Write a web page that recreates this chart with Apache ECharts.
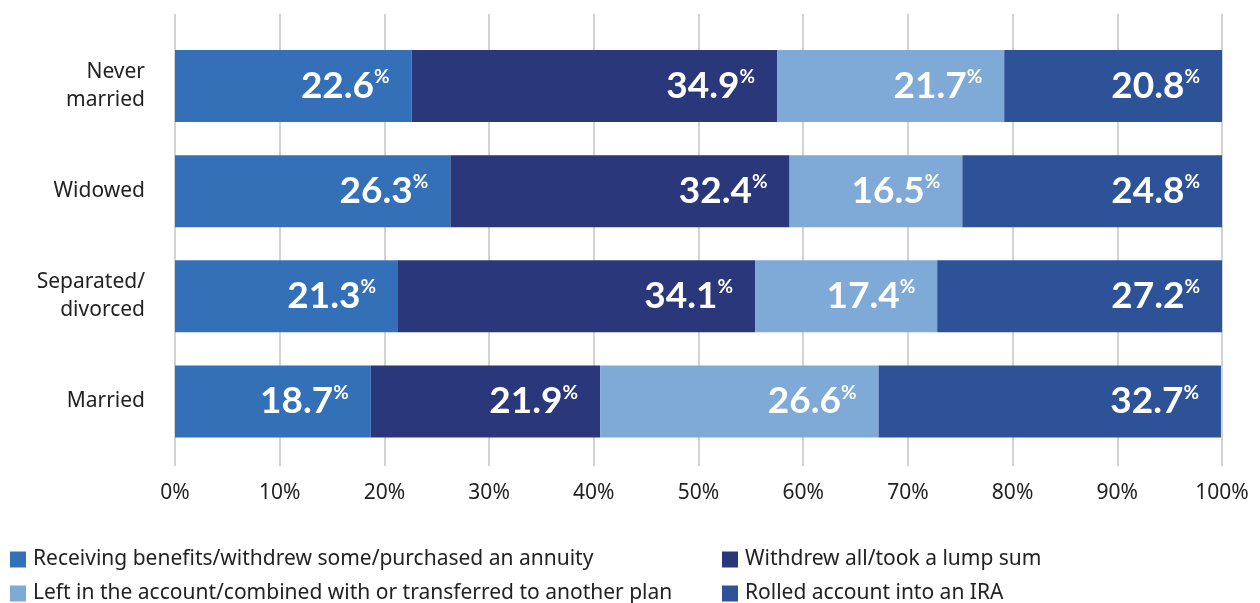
<!DOCTYPE html>
<html>
<head>
<meta charset="utf-8">
<script src="https://cdn.jsdelivr.net/npm/echarts@6/dist/echarts.min.js"></script>
<style>
  html, body { margin: 0; padding: 0; background: #fff; }
  #chart { width: 1260px; height: 603px; }
</style>
</head>
<body>
<div id="chart"></div>
<script>
var categories = ['Never\nmarried', 'Widowed', 'Separated/\ndivorced', 'Married'];
var seriesNames = [
    'Receiving benefits/withdrew some/purchased an annuity',
    'Withdrew all/took a lump sum',
    'Left in the account/combined with or transferred to another plan',
    'Rolled account into an IRA'
];
var receiving = [22.6, 26.3, 21.3, 18.7];
var withdrewAll = [34.9, 32.4, 34.1, 21.9];
var leftInAccount = [21.7, 16.5, 17.4, 26.6];
var rolledIRA = [20.8, 24.8, 27.2, 32.7];
var colors = ['#3470b8', '#2a377a', '#7fa9d7', '#2d5298'];

var labelFont = 'Lato, "Noto Sans", sans-serif';
var textFont = '"Noto Sans", "Open Sans", sans-serif';

function barSeries(idx, values) {
    return {
        name: seriesNames[idx],
        type: 'bar',
        stack: 'total',
        xAxisIndex: 0,
        yAxisIndex: 0,
        barWidth: 72,
        itemStyle: { color: colors[idx] },
        data: values,
        label: {
            show: true,
            position: 'insideRight',
            distance: 22,
            formatter: function (p) { return '{n|' + p.value.toFixed(1) + '}{p|%}'; },
            rich: {
                n: { fontFamily: labelFont, fontWeight: 'bold', fontSize: 37, color: '#fff' },
                p: { fontFamily: labelFont, fontWeight: 'bold', fontSize: 19, color: '#fff', verticalAlign: 'top', padding: [0, 0, 12, 0] }
            }
        }
    };
}

// one legend per entry so the 2x2 placement matches
function legendAt(left, top, idx) {
    return {
        left: left, top: top,
        itemWidth: 16, itemHeight: 16, itemGap: 0,
        icon: 'rect',
        textStyle: { fontSize: 21, color: '#222', fontFamily: textFont, padding: [0, 0, 0, 2] },
        data: [seriesNames[idx]]
    };
}

var chart = echarts.init(document.getElementById('chart'));
chart.setOption({
    animation: false,
    textStyle: { fontFamily: textFont },
    grid: [
        { left: 175, right: 38, top: 33.5, bottom: 149 },
        { left: 175, right: 38, top: 14, bottom: 137 }
    ],
    legend: [
        legendAt(5, 544, 0),
        legendAt(5, 578, 2),
        legendAt(717, 544, 1),
        legendAt(717, 578, 3)
    ],
    xAxis: [
        { type: 'value', gridIndex: 0, min: 0, max: 100, show: false },
        {
            type: 'value', gridIndex: 1, min: 0, max: 100, interval: 10,
            axisLine: { show: false }, axisTick: { show: false },
            splitLine: { show: true, lineStyle: { color: '#c4c4c4', width: 1.5 } },
            axisLabel: { formatter: '{value}%', fontSize: 21, color: '#222', margin: 17, fontFamily: textFont }
        }
    ],
    yAxis: [
        {
            type: 'category', gridIndex: 0, inverse: true, data: categories,
            axisLine: { show: false }, axisTick: { show: false },
            axisLabel: { fontSize: 21, color: '#222', margin: 30, lineHeight: 28, fontFamily: textFont }
        },
        { type: 'category', gridIndex: 1, show: false, data: categories }
    ],
    series: [
        barSeries(0, receiving),
        barSeries(1, withdrewAll),
        barSeries(2, leftInAccount),
        barSeries(3, rolledIRA)
    ]
});
</script>
</body>
</html>
